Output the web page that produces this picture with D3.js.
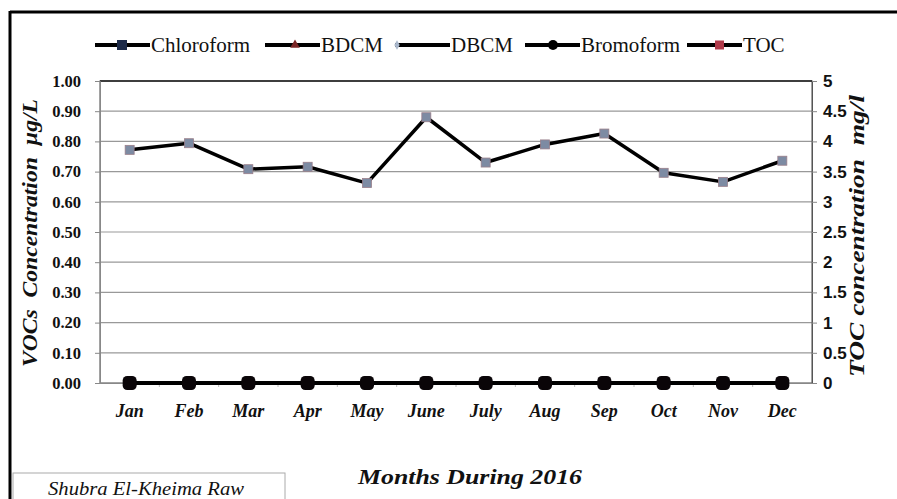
<!DOCTYPE html>
<html><head><meta charset="utf-8">
<script src="https://cdn.jsdelivr.net/npm/d3@7"></script>
<style>body{margin:0;background:#fff}svg{display:block}</style>
</head><body>
<svg id="c" width="897" height="499"></svg>
<script>
const months = ["Jan","Feb","Mar","Apr","May","June","July","Aug","Sep","Oct","Nov","Dec"];
const chloroform = [0,0,0,0,0,0,0,0,0,0,0,0];
const bdcm = [0,0,0,0,0,0,0,0,0,0,0,0];
const dbcm = [0,0,0,0,0,0,0,0,0,0,0,0];
const bromoform = [0,0,0,0,0,0,0,0,0,0,0,0];
const toc = [3.86,3.97,3.54,3.58,3.31,4.40,3.65,3.95,4.13,3.48,3.33,3.68];
const leftTicks = [0,0.1,0.2,0.3,0.4,0.5,0.6,0.7,0.8,0.9,1.0];
const rightTicks = [0,0.5,1,1.5,2,2.5,3,3.5,4,4.5,5];
const legendNames = ["Chloroform","BDCM","DBCM","Bromoform","TOC"];

const SERIF = "'Liberation Serif','Times New Roman',Times,Tinos,'DejaVu Serif','Noto Serif',serif";
const SANS = "'Liberation Sans',Arial,'DejaVu Sans',sans-serif";
const svg = d3.select("#c");
const L = 100, R = 812, T = 81, B = 383;
const x = d3.scaleBand().domain(months).range([L, R]);
const yL = d3.scaleLinear().domain([0, 1]).range([B, T]);
const yR = d3.scaleLinear().domain([0, 5]).range([B, T]);
const cx = m => x(m) + x.bandwidth() / 2;

svg.append("line").attr("x1",10).attr("x2",897).attr("y1",12).attr("y2",12).attr("stroke","#000").attr("stroke-width",3);
svg.append("line").attr("x1",10).attr("x2",10).attr("y1",11).attr("y2",499).attr("stroke","#000").attr("stroke-width",3);

svg.append("g").selectAll("line").data(leftTicks.slice(1)).join("line")
  .attr("x1",L).attr("x2",R).attr("y1",d=>yL(d)).attr("y2",d=>yL(d))
  .attr("stroke","#999").attr("stroke-width",1.2);
svg.append("rect").attr("x",L).attr("y",T).attr("width",R-L).attr("height",B-T)
  .attr("fill","none").attr("stroke","#666").attr("stroke-width",1.2);
svg.append("line").attr("x1",L).attr("x2",R).attr("y1",T).attr("y2",T).attr("stroke","#222").attr("stroke-width",1.5);

const gl = svg.append("g").attr("transform",`translate(${L},0)`)
  .call(d3.axisLeft(yL).tickValues(leftTicks).tickFormat(d3.format(".2f")).tickSize(5).tickPadding(14));
gl.select(".domain").attr("stroke","#888");
gl.selectAll(".tick line").attr("stroke","#888");
gl.selectAll("text").style("font-family",SERIF).attr("font-weight","bold").attr("font-size",16.5).attr("fill","#111");

const gr = svg.append("g").attr("transform",`translate(${R},0)`)
  .call(d3.axisRight(yR).tickValues(rightTicks).tickFormat(d=>String(d)).tickSize(5).tickPadding(6));
gr.select(".domain").attr("stroke","#555");
gr.selectAll(".tick line").attr("stroke","#888");
gr.selectAll("text").style("font-family",SANS).attr("font-weight","bold").attr("font-size",17).attr("fill","#111");

const gb = svg.append("g").attr("transform",`translate(0,${B})`)
  .call(d3.axisBottom(x).tickSize(0).tickPadding(21));
gb.select(".domain").attr("stroke","#888");
gb.selectAll("text").style("font-family",SERIF).attr("font-weight","bold").attr("font-style","italic").attr("font-size",18).attr("fill","#111");
svg.append("g").selectAll("line").data(months.slice(1)).join("line")
  .attr("x1",d=>x(d)).attr("x2",d=>x(d)).attr("y1",B).attr("y2",B+4).attr("stroke","#bbb");

const lineL = d3.line().x((d,i)=>cx(months[i])).y(d=>yL(d));
[chloroform,bdcm,dbcm,bromoform].forEach(s=>{
  svg.append("path").datum(s).attr("d",lineL).attr("fill","none").attr("stroke","#000").attr("stroke-width",4);
});
svg.append("g").selectAll("rect").data(bromoform).join("rect")
  .attr("x",(d,i)=>cx(months[i])-7).attr("y",d=>yL(d)-7).attr("width",14).attr("height",14)
  .attr("rx",4.5).attr("fill","#0a0508");

const lineR = d3.line().x((d,i)=>cx(months[i])).y(d=>yR(d));
svg.append("path").datum(toc).attr("d",lineR).attr("fill","none").attr("stroke","#000").attr("stroke-width",3.5).attr("stroke-linejoin","round");
svg.append("g").selectAll("rect").data(toc).join("rect")
  .attr("x",(d,i)=>cx(months[i])-4.5).attr("y",d=>yR(d)-4.5).attr("width",9).attr("height",9)
  .attr("fill","#7d8ba3").attr("stroke","#9a7f8a").attr("stroke-width",0.8);

const tstyle = s => s.style("font-family",SERIF).attr("font-weight","bold").attr("font-style","italic").attr("font-size",20).attr("fill","#111");
svg.append("text").attr("transform","translate(37,233) rotate(-90)").attr("text-anchor","middle")
  .call(tstyle).attr("xml:space","preserve").attr("textLength",268).attr("lengthAdjust","spacingAndGlyphs")
  .text("VOCs  Concentration  \u00b5g/L");
svg.append("text").attr("transform","translate(864,236) rotate(-90)").attr("text-anchor","middle")
  .call(tstyle).attr("xml:space","preserve").attr("textLength",282).attr("lengthAdjust","spacingAndGlyphs")
  .text("TOC concentration  mg/l");
svg.append("text").attr("x",470).attr("y",484).attr("text-anchor","middle")
  .call(tstyle).attr("textLength",224).attr("lengthAdjust","spacingAndGlyphs").text("Months During 2016");

svg.append("rect").attr("x",13).attr("y",473).attr("width",272).attr("height",30).attr("fill","#fff").attr("stroke","#aaa");
svg.append("text").attr("x",146).attr("y",495).attr("text-anchor","middle")
  .style("font-family",SERIF).attr("font-style","italic").attr("font-size",18)
  .attr("textLength",196).attr("lengthAdjust","spacingAndGlyphs")
  .attr("fill","#111").text("Shubra El-Kheima Raw");

const legX = [95,265,395,525,687];
const lg = svg.append("g");
legendNames.forEach((n,i)=>{
  const g = lg.append("g").attr("transform",`translate(${legX[i]},45)`);
  g.append("line").attr("x1",0).attr("x2",55).attr("y1",0).attr("y2",0).attr("stroke","#000").attr("stroke-width",4);
  if(i===0) g.append("rect").attr("x",22).attr("y",-5).attr("width",10).attr("height",10).attr("fill","#1c2a48");
  if(i===1) g.append("path").attr("d",d3.symbol(d3.symbolTriangle,40)()).attr("transform","translate(30,0)").attr("fill","#7a2525");
  if(i===2) g.append("path").attr("d",d3.symbol(d3.symbolDiamond,25)()).attr("transform","translate(2,0)").attr("fill","#aab8cc");
  if(i===3) g.append("circle").attr("cx",28).attr("cy",0).attr("r",5).attr("fill","#000");
  if(i===4) g.append("rect").attr("x",28).attr("y",-4.5).attr("width",9).attr("height",9).attr("fill","#b03a4a");
  g.append("text").attr("x",56).attr("y",7).style("font-family",SERIF).attr("font-size",21)
    .attr("fill","#111").text(n);
});
</script>
</body></html>
